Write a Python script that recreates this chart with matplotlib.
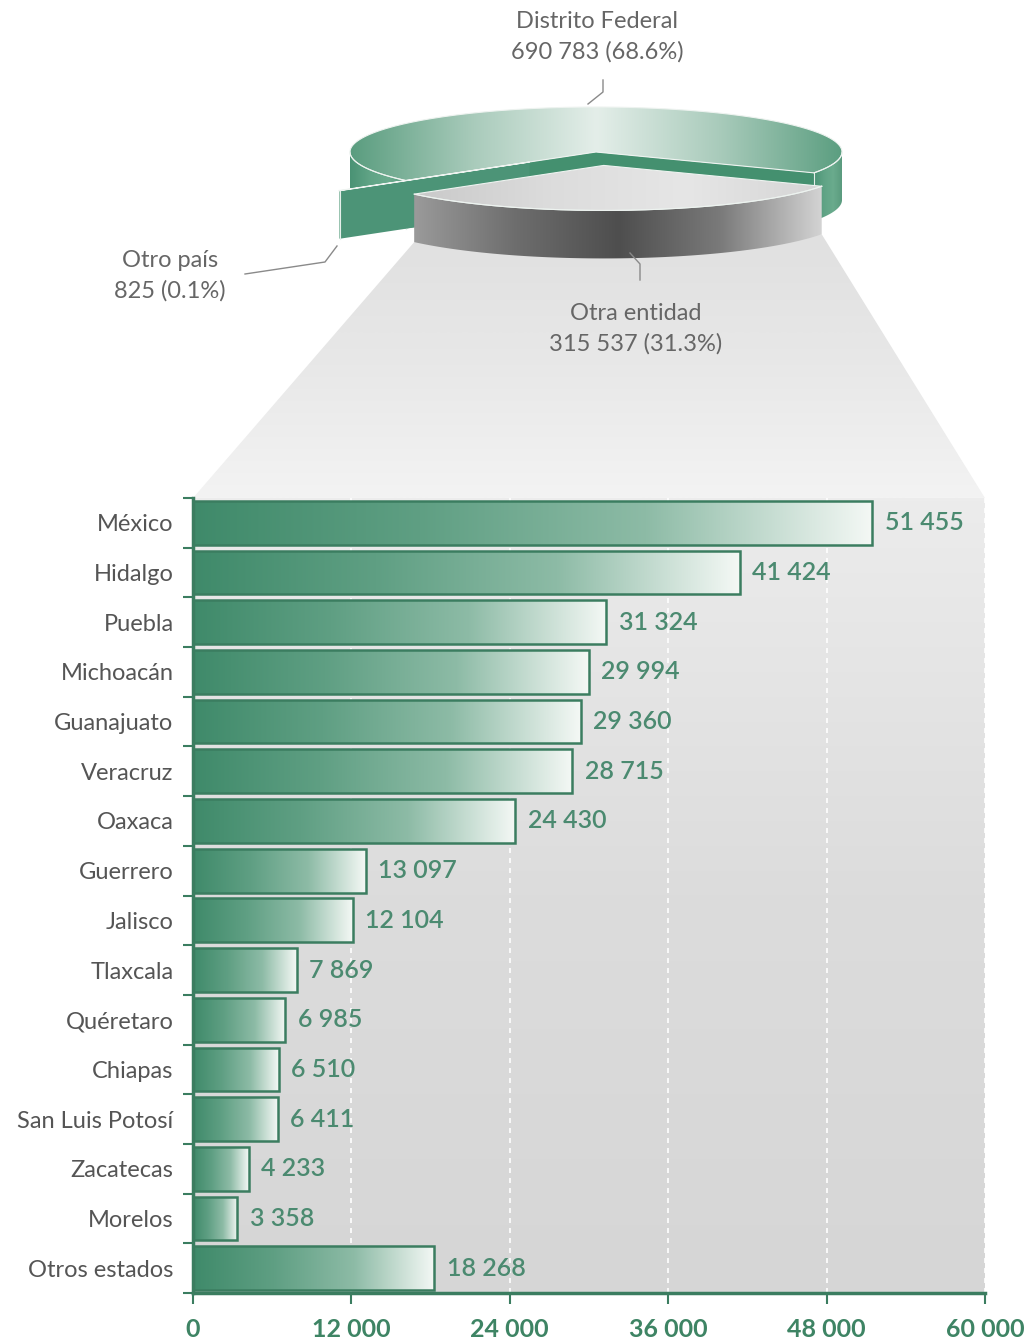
import matplotlib.pyplot as plt
import numpy as np
from matplotlib.colors import LinearSegmentedColormap
from matplotlib.patches import Polygon

plt.rcParams['font.family'] = ['Lato', 'DejaVu Sans']

# data
states = ['México', 'Hidalgo', 'Puebla', 'Michoacán', 'Guanajuato', 'Veracruz',
          'Oaxaca', 'Guerrero', 'Jalisco', 'Tlaxcala', 'Quéretaro', 'Chiapas',
          'San Luis Potosí', 'Zacatecas', 'Morelos', 'Otros estados']
migrants = [51455, 41424, 31324, 29994, 29360, 28715, 24430, 13097, 12104,
            7869, 6985, 6510, 6411, 4233, 3358, 18268]
x_ticks = [0, 12000, 24000, 36000, 48000, 60000]

origin_labels = ['Distrito Federal', 'Otra entidad', 'Otro país']
origin_values = [690783, 315537, 825]


def fmt(v):
    return f"{v:,}".replace(',', ' ')


GREEN = '#3b7d60'
TEXT_GREEN = '#4b8a70'

fig = plt.figure(figsize=(10.26, 13.43), dpi=100)
bg = fig.add_axes([0, 0, 1, 1])
bg.axis('off')


def grad_fill(ax, xs, ys, colors, z, horizontal=True):
    xs = np.asarray(xs, float)
    ys = np.asarray(ys, float)
    poly = Polygon(np.column_stack([xs, ys]), closed=True, facecolor='none',
                   edgecolor='none', transform=ax.transData)
    ax.add_patch(poly)
    cmap = LinearSegmentedColormap.from_list('g', colors)
    g = np.linspace(0, 1, 256)
    img = g[None, :] if horizontal else g[:, None]
    x0, x1 = xs.min(), xs.max() + 0.5
    y0, y1 = ys.min(), ys.max() + 0.5
    im = ax.imshow(img, cmap=cmap, extent=[x0, x1, y1, y0], aspect='auto',
                   zorder=z, interpolation='bilinear')
    im.set_clip_path(poly)


# pie geometry (figure pixels)
cx, cy, rx, ry, depth = 596, 152, 246, 45, 48


def draw_wedge(ax, a0, a1, off, top_c, wall_c, radial_c, z):
    ox, oy = cx + off[0], cy + off[1]

    def pt(a):
        t = np.radians(a)
        return ox + rx * np.cos(t), oy - ry * np.sin(t)

    for a, normal in ((a0, a0 - 90), (a1, a1 + 90)):
        if np.sin(np.radians(normal)) < 0:
            px, py = pt(a)
            ax.fill([ox, px, px, ox], [oy, py, py + depth, oy + depth],
                    color=radial_c, lw=0, zorder=z)
            ax.plot([px, px], [py, py + depth], color='#e6efea', lw=0.8, zorder=z + 0.3)
    t = np.linspace(a0, a1, 600)
    idx = np.flatnonzero(np.sin(np.radians(t)) < 0)
    if idx.size:
        for run in np.split(idx, np.where(np.diff(idx) > 1)[0] + 1):
            xs, ys = pt(t[run])
            grad_fill(ax, np.concatenate([xs, xs[::-1]]),
                      np.concatenate([ys, ys[::-1] + depth]), wall_c, z + 0.1)
            ax.plot(xs, ys, color='#e6efea', lw=0.8, zorder=z + 0.3)
    xs, ys = pt(t)
    grad_fill(ax, np.concatenate([[ox], xs]), np.concatenate([[oy], ys]), top_c, z + 0.2)
    ax.plot(np.concatenate([[xs[-1], ox], xs]), np.concatenate([[ys[-1], oy], ys]),
            color='#eef3f0', lw=0.8, zorder=z + 0.3)
    return pt


total = sum(origin_values)
fracs = [v / total for v in origin_values]
explode = [0.0, 0.3, 0.35]
order = [1, 0, 2]
start = 276 - fracs[1] * 360 / 2
spans = {}
a = start
for k in order:
    spans[k] = (a, a + fracs[k] * 360)
    a += fracs[k] * 360

styles = {
    0: (['#5a9d7f', '#a9cbbb', '#e4eee9', '#a9cbbb', '#5b9e80'],
        ['#4a9274', '#5fa385', '#6aab8d', '#58997c'], '#44906f', 3),
    2: (['#5fa082', '#5fa082'], ['#7fb59c', '#7fb59c'], '#4c9477', 4),
    1: (['#c9c9c9', '#dcdcdc', '#e6e6e6', '#d5d5d5'],
        ['#9a9a9a', '#6d6d6d', '#4e4e4e', '#7a7a7a', '#d4d4d4'], '#777777', 5),
}
offsets = {}
for k in [0, 2, 1]:
    a0, a1 = spans[k]
    mid = np.radians((a0 + a1) / 2)
    off = (explode[k] * rx * np.cos(mid), -explode[k] * ry * np.sin(mid))
    offsets[k] = off
    top_c, wall_c, rad_c, z = styles[k]
    draw_wedge(bg, a0, a1, off, top_c, wall_c, rad_c, z)

# bar panel
left, right, top, bottom = 193, 985, 498, 1293
ax = fig.add_axes([left / 1026, 1 - bottom / 1343, (right - left) / 1026, (bottom - top) / 1343])

# projection band from the exploded slice to the panel
a0, a1 = spans[1]
ox, oy = cx + offsets[1][0], cy + offsets[1][1]
lx, ly = ox + rx * np.cos(np.radians(a0)), oy - ry * np.sin(np.radians(a0)) + depth
rxp, ryp = ox + rx * np.cos(np.radians(a1)), oy - ry * np.sin(np.radians(a1)) + depth
grad_fill(bg, [lx, rxp, right, left], [ly, ryp, top, top],
          ['#e0e0e0', '#e8e8e8', '#f3f3f3'], 1, horizontal=False)

# leader lines and pie labels
bg.plot([603, 603, 588], [80, 92, 104], color='#8a8a8a', lw=1, zorder=6)
bg.plot([245, 325, 337], [274, 262, 246], color='#8a8a8a', lw=1, zorder=6)
bg.plot([630, 640, 640], [253, 264, 280], color='#8a8a8a', lw=1, zorder=6)


def pie_text(k):
    v = origin_values[k]
    return f"{origin_labels[k]}\n{fmt(v)} ({100 * v / total:.1f}%)"


pie_font = dict(fontsize=17, color='#666666', ha='center', va='center', linespacing=1.5, zorder=7)
bg.text(597, 37, pie_text(0), **pie_font)
bg.text(170, 276, pie_text(2), **pie_font)
bg.text(636, 329, pie_text(1), **pie_font)

bg.set_xlim(0, 1026)
bg.set_ylim(1343, 0)

# panel background
ax.set_facecolor('none')
g = np.linspace(0, 1, 256)[:, None]
ax.imshow(g, cmap=LinearSegmentedColormap.from_list('p', ['#ececec', '#dcdcdc', '#d6d6d6']),
          extent=[0, 1, 0, 1], transform=ax.transAxes, aspect='auto', zorder=0)

ypos = np.arange(len(states))
bars = ax.barh(ypos, migrants, height=0.88, facecolor='none', edgecolor=GREEN, lw=1.8, zorder=3)
bar_cmap = LinearSegmentedColormap.from_list('b', ['#3f8a6a', '#5f9f83', '#8dbba6', '#f4f8f5'])
for b in bars:
    im = ax.imshow(g.T, cmap=bar_cmap, aspect='auto', zorder=2, interpolation='bilinear',
                   extent=[b.get_x(), b.get_x() + b.get_width(),
                           b.get_y() + b.get_height(), b.get_y()])
    im.set_clip_path(b)

ax.bar_label(bars, labels=[fmt(v) for v in migrants], padding=9,
             color=TEXT_GREEN, fontsize=18, fontweight='semibold')

ax.set_xlim(0, 60000)
ax.set_ylim(len(states) - 0.5, -0.5)
ax.set_xticks(x_ticks)
ax.set_xticklabels([fmt(v) for v in x_ticks], fontsize=18, fontweight='bold', color='#3e8464')
ax.set_yticks(ypos)
ax.set_yticklabels(states, fontsize=17, color='#555555')
ax.set_yticks(np.arange(-0.5, len(states), 1), minor=True)
ax.tick_params(axis='y', which='major', length=0, pad=14)
ax.tick_params(axis='y', which='minor', length=7, width=1.5, color=GREEN)
ax.tick_params(axis='x', length=8, width=1.5, color=GREEN, pad=10)

ax.xaxis.grid(True, color='white', ls=(0, (3, 3)), lw=1.2)
ax.set_axisbelow(True)
for s in ['top', 'right']:
    ax.spines[s].set_visible(False)
for s in ['left', 'bottom']:
    ax.spines[s].set_color(GREEN)
    ax.spines[s].set_linewidth(2.5)

fig.savefig('out.png', dpi=100)
